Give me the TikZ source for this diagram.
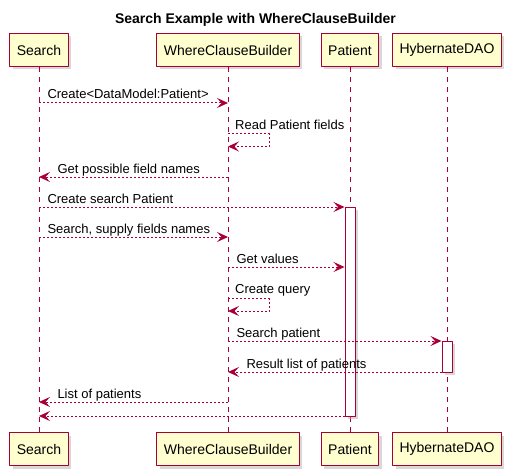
\documentclass[tikz,border=0pt]{standalone}
\usepackage{fontspec}
\setmainfont{Liberation Sans}
\usetikzlibrary{arrows.meta,shadows,positioning}
\definecolor{umlred}{HTML}{A80036}
\definecolor{umlfill}{HTML}{FEFECE}
\begin{document}
\begin{tikzpicture}[x=1pt,y=-1pt,>={Stealth[length=11pt,width=10pt,inset=4.5pt]},font=\fontsize{13}{15}\selectfont,line join=round,
	actor/.style={draw=umlred,fill=umlfill,line width=1pt,minimum height=33pt,inner xsep=7pt,font=\fontsize{14}{16}\selectfont,drop shadow={shadow xshift=3pt,shadow yshift=-3pt,fill=black!30}},
	act/.style={draw=umlred,fill=white,line width=1pt,minimum width=10pt,inner sep=0pt,drop shadow={shadow xshift=3pt,shadow yshift=-3pt,fill=black!30}},
	life/.style={umlred,line width=1pt,dash pattern=on 5pt off 5pt},
	msg/.style={umlred,line width=1pt,dash pattern=on 2pt off 2pt,->},
	lbl/.style={text=black,inner sep=0pt,anchor=base west}]
	\useasboundingbox (0,0) rectangle (511,476);
	\node[font=\bfseries\fontsize{14}{16}\selectfont] (title) at (255.5,20) {Search Example with WhereClauseBuilder};
	\foreach \n/\x/\t in {S/39/Search,W/228/WhereClauseBuilder,P/350/Patient,H/447/HybernateDAO}{
		\node[actor] (\n top) at (\x,50) {\t};
		\node[actor] (\n bot) at (\x,449) {\t};
		\draw[life] (\n top) -- (\n bot);
	}
	\node[act,minimum height=209pt] (Pact) at (350,311.5) {};
	\node[act,minimum height=31pt] (Hact) at (447,356.5) {};
	% message rows
	\foreach \i/\y in {1/103,2/134,3/146.5,4/177,5/207,6/237,7/267,8/298.5,9/311,10/341,11/372,12/402,13/416}
	\path (Stop|-0,\y) coordinate (S\i) (Wtop|-0,\y) coordinate (W\i)
	(Pact.west|-0,\y) coordinate (P\i) (Hact.west|-0,\y) coordinate (H\i);
	\draw[msg] (S1) -- (W1) node[lbl,at start,xshift=8pt,yshift=4pt]{Create<DataModel:Patient>};
	\draw[msg] (W2) -- ++(41,0) |- (W3);
	\node[lbl,xshift=7pt,yshift=5pt] (rd) at (W2) {Read Patient fields};
	\draw[msg] (W4) -- (S4) node[lbl,at end,xshift=18pt,yshift=4pt]{Get possible field names};
	\draw[msg] (S5) -- (P5) node[lbl,at start,xshift=8pt,yshift=4pt]{Create search Patient};
	\draw[msg] (S6) -- (W6) node[lbl,at start,xshift=8pt,yshift=4pt]{Search, supply fields names};
	\draw[msg] (W7) -- (P7) node[lbl,at start,xshift=8pt,yshift=4pt]{Get values};
	\draw[msg] (W8) -- ++(41,0) |- (W9);
	\node[lbl,xshift=7pt,yshift=5pt] (cq) at (W8) {Create query};
	\draw[msg] (W10) -- (H10) node[lbl,at start,xshift=8pt,yshift=4pt]{Search patient};
	\draw[msg] (H11) -- (W11) node[lbl,at end,xshift=18pt,yshift=4pt]{Result list of patients};
	\draw[msg] (W12) -- (S12) node[lbl,at end,xshift=18pt,yshift=4pt]{List of patients};
	\draw[msg] (P13) -- (S13);
\end{tikzpicture}
\end{document}
